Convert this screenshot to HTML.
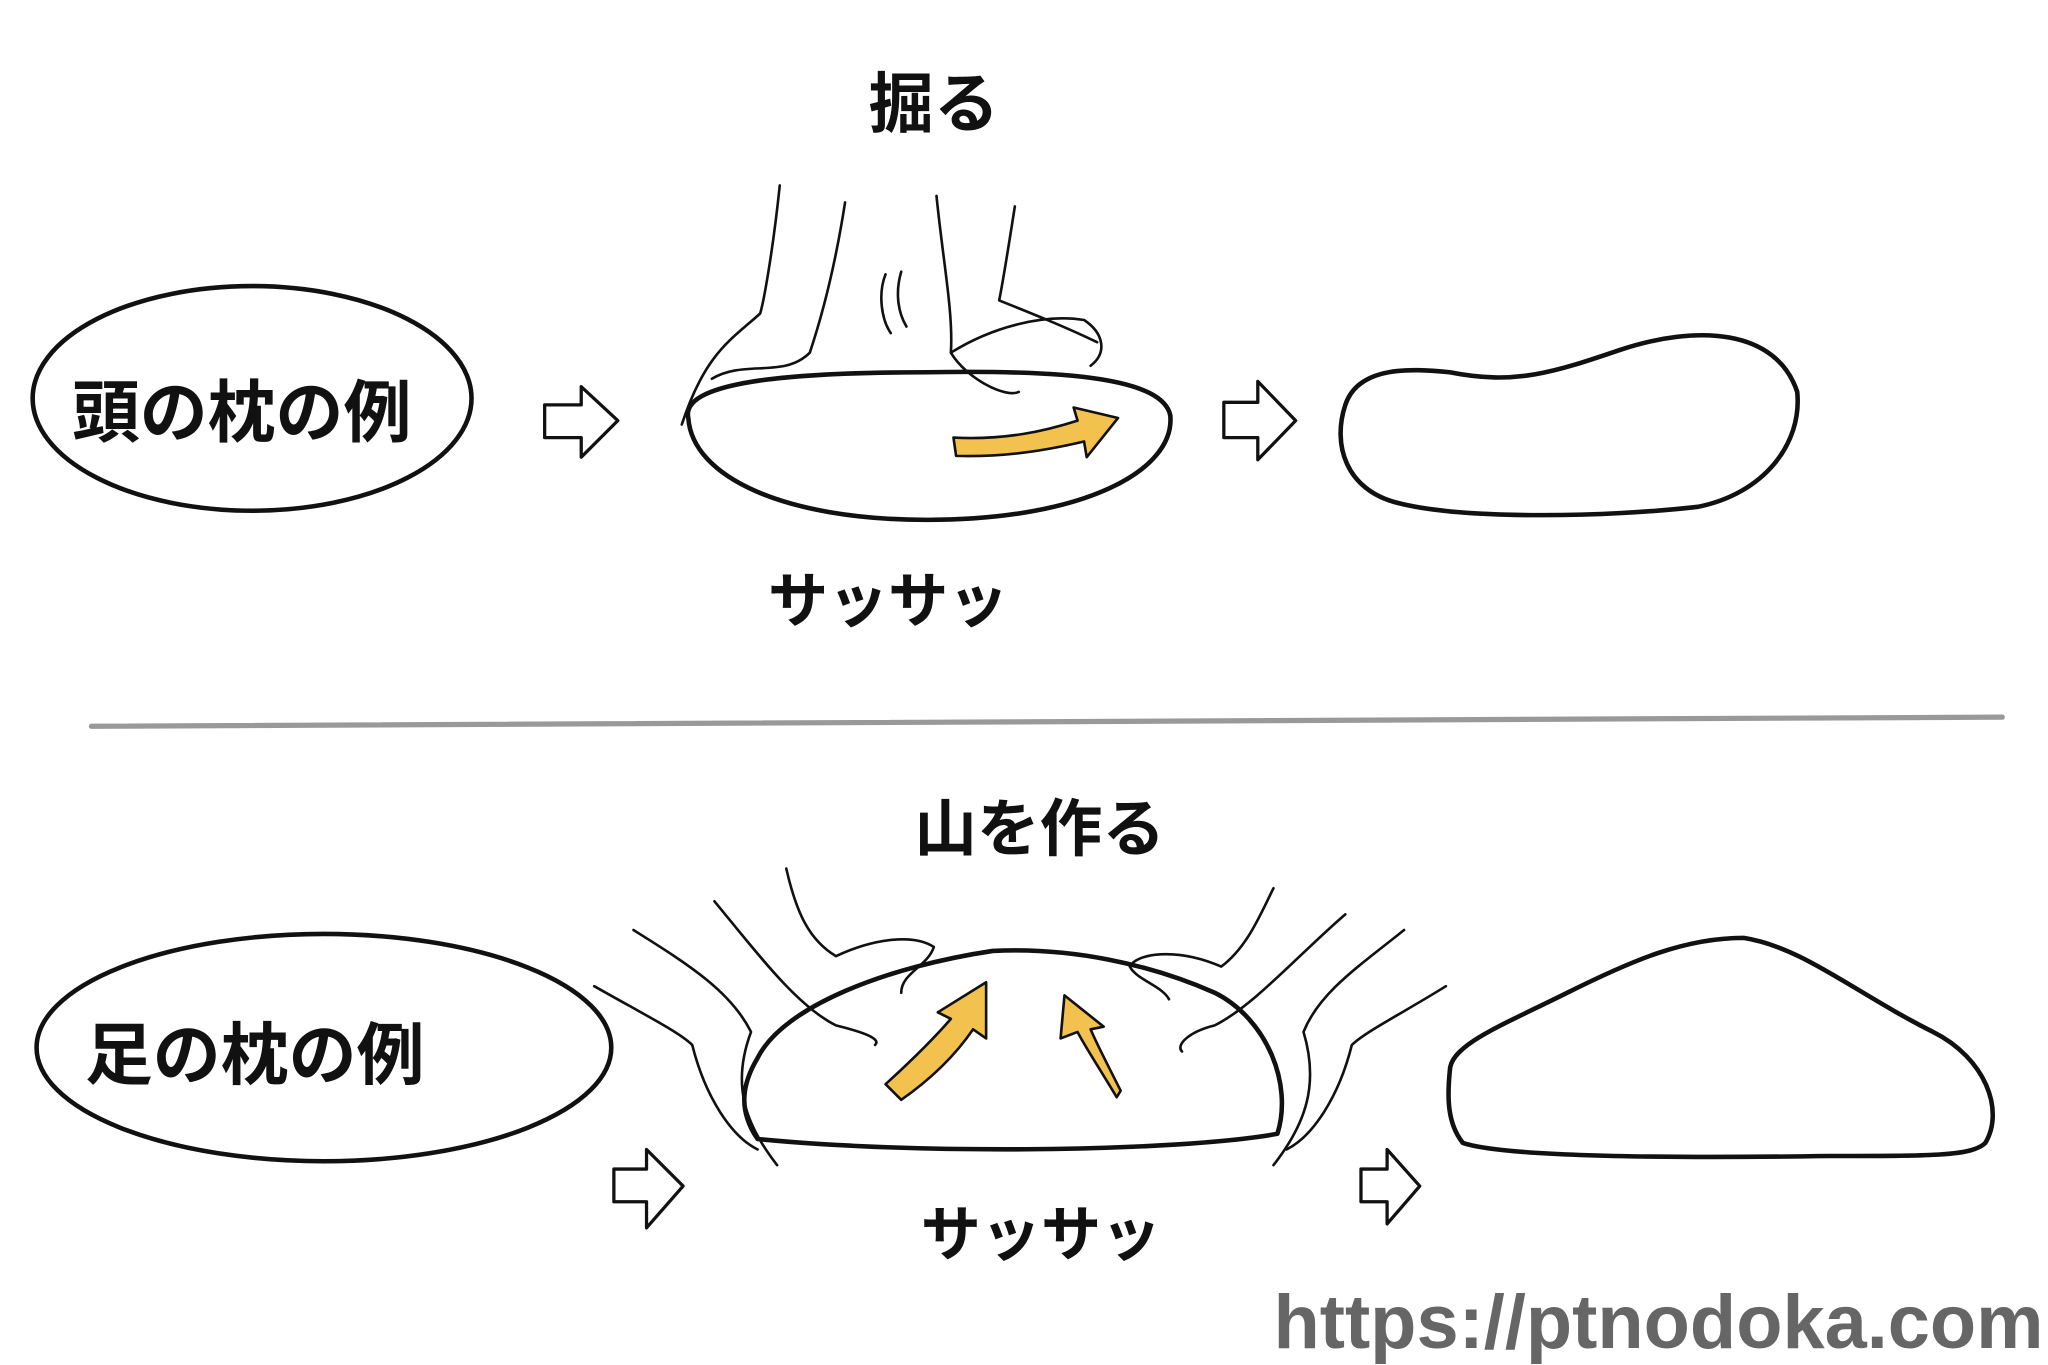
<!DOCTYPE html>
<html><head><meta charset="utf-8"><style>
html,body{margin:0;padding:0;background:#fff;}
svg{display:block;}
text{font-family:"Liberation Sans","Noto Sans CJK JP",sans-serif;font-weight:bold;fill:#111;}
</style></head><body>
<svg width="2048" height="1365" viewBox="0 0 1568 1045" preserveAspectRatio="none" xmlns="http://www.w3.org/2000/svg">
<rect width="1568" height="1045" fill="#fff"/>
<g fill="none" stroke="#111" stroke-width="3.5" stroke-linecap="round" stroke-linejoin="round">
<ellipse cx="193" cy="305" rx="168" ry="86"/>
<path d="M417 310 L445 310 L445 296 L473 322 L445 350 L445 335 L417 335 Z" stroke-width="2.5"/>
<path d="M527 320 C520 290 620 285 710 285 C820 283 890 290 896 318 C900 360 830 398 710 398 C600 398 530 365 527 320 Z"/>
<path d="M597 142 C592 190 585 230 582 240 C560 260 540 270 522 325" stroke-width="2"/>
<path d="M647 155 C640 200 630 240 620 270 C600 290 570 275 545 290" stroke-width="2"/>
<path d="M717 150 C722 200 730 240 728 270 C740 290 770 305 780 300 M728 270 C760 250 800 240 830 245 C845 255 848 270 835 280" stroke-width="2"/>
<path d="M777 158 C772 190 768 215 765 230 C790 240 815 250 840 262" stroke-width="2"/>
<path d="M678 210 C672 225 675 245 682 255 M690 208 C685 225 688 240 694 250" stroke-width="2"/>
<path d="M937 308 L963 308 L963 292 L992 322 L963 352 L963 335 L937 335 Z" stroke-width="2.5"/>
<path d="M1030 310 C1040 280 1080 282 1110 285 C1160 295 1190 285 1240 268 C1300 248 1360 252 1376 300 C1380 340 1350 378 1300 388 C1230 396 1120 398 1070 385 C1030 375 1020 340 1030 310 Z"/>
<line x1="70" y1="556" x2="1533" y2="549" stroke="#999" stroke-width="4"/>
<ellipse cx="248" cy="802" rx="220" ry="87"/>
<path d="M470 895 L495 895 L495 880 L523 908 L495 940 L495 920 L470 920 Z" stroke-width="2.5"/>
<path d="M580 810 C600 770 680 740 760 728 C820 725 880 738 930 760 C970 780 990 830 978 868 C900 882 700 884 580 872 C565 850 568 830 580 810 Z"/>
<path d="M485 712 C530 740 560 760 575 790 C560 830 570 860 595 892" stroke-width="2"/>
<path d="M455 755 C490 775 520 790 530 800 C540 840 560 870 580 880" stroke-width="2"/>
<path d="M547 690 C580 730 610 770 640 785 C660 790 675 795 670 800" stroke-width="2"/>
<path d="M602 665 C610 700 620 720 640 732 C670 718 700 715 715 725 C710 740 690 745 690 760" stroke-width="2"/>
<path d="M1075 712 C1040 740 1010 760 998 790 C1010 830 1000 860 975 892" stroke-width="2"/>
<path d="M1107 755 C1075 775 1045 790 1035 800 C1025 840 1005 870 985 880" stroke-width="2"/>
<path d="M1030 700 C995 730 960 770 930 785 C910 790 900 800 905 805" stroke-width="2"/>
<path d="M975 680 C965 700 955 725 935 740 C900 725 870 730 865 740 C870 750 890 755 895 765" stroke-width="2"/>
<path d="M1042 895 L1062 895 L1062 880 L1087 908 L1062 937 L1062 920 L1042 920 Z" stroke-width="2.5"/>
<path d="M1110 820 C1110 800 1150 785 1200 760 C1250 735 1290 718 1335 718 C1380 725 1420 760 1480 790 C1520 810 1535 850 1520 875 C1510 885 1480 885 1400 885 C1260 887 1150 885 1120 875 C1108 860 1108 840 1110 820 Z"/>
</g>
<g fill="#f2c14e" stroke="#111" stroke-width="2" stroke-linejoin="round">
<path d="M730 335 C770 337 800 330 825 322 L822 312 L856 320 L832 350 L830 338 C800 345 770 350 732 349 Z"/>
<path d="M678 830 C700 810 715 795 728 780 L718 775 L755 752 L755 795 L745 788 C730 810 710 828 690 842 Z"/>
<path d="M855 840 C840 815 830 800 825 790 L812 795 L815 762 L845 786 L835 788 C840 800 848 815 858 835 Z"/>
</g>
<text x="665" y="97" font-size="50">掘る</text>
<text x="55" y="334" font-size="52">頭の枕の例</text>
<text x="588" y="476" font-size="46">サッサッ</text>
<text x="700" y="651" font-size="48">山を作る</text>
<text x="65" y="826" font-size="52">足の枕の例</text>
<text x="705" y="961" font-size="46">サッサッ</text>
<text x="975" y="1032" font-size="58" style="fill:#666">https://ptnodoka.com</text>
</svg>
</body></html>
